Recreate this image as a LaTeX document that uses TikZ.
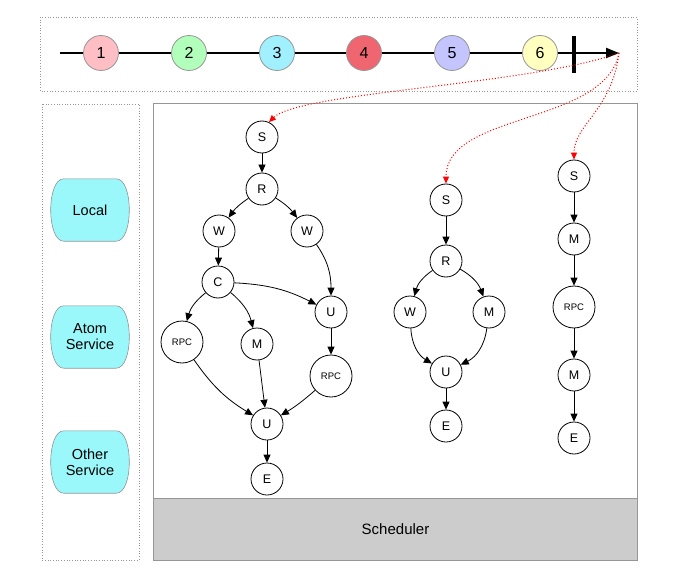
\documentclass[tikz,border=0pt]{standalone}
\usepackage{fontspec}
\setmainfont{Liberation Sans}
\usetikzlibrary{arrows.meta}
\definecolor{cA}{RGB}{255,189,196}
\definecolor{cB}{RGB}{178,255,188}
\definecolor{cC}{RGB}{160,240,255}
\definecolor{cD}{RGB}{240,102,112}
\definecolor{cE}{RGB}{196,196,255}
\definecolor{cF}{RGB}{255,255,192}
\definecolor{svccol}{RGB}{155,248,250}
\definecolor{schedcol}{RGB}{204,204,204}
\definecolor{frame}{RGB}{150,150,150}
\pgfdeclarelayer{bg}
\pgfsetlayers{bg,main}
\newcommand\svcoutline[1]{%
  ([xshift=13pt]#1.north west) -- ([xshift=-13pt]#1.north east)
  .. controls ([xshift=4.5pt]#1.north east) and ([xshift=4.5pt]#1.south east) .. ([xshift=-13pt]#1.south east)
  -- ([xshift=13pt]#1.south west)
  .. controls ([xshift=-4.5pt]#1.south west) and ([xshift=-4.5pt]#1.north west) .. cycle}
\newcommand\svcback[1]{%
  \begin{pgfonlayer}{bg}
  \fill[gray!60,opacity=0.7,shift={(1.5,-2.5)}] \svcoutline{#1};
  \draw[draw=frame,line width=0.6pt,fill=svccol] \svcoutline{#1};
  \end{pgfonlayer}}
\begin{document}
\begin{tikzpicture}[x=1pt,y=1pt,
  tlnum/.style={circle,draw=frame,line width=0.8pt,minimum size=35pt,inner sep=0pt,font=\fontsize{16}{18}\selectfont},
  gn/.style={circle,draw=black,line width=0.8pt,fill=white,minimum size=32pt,inner sep=0pt,font=\fontsize{12.5}{14}\selectfont},
  rpc/.style={gn,minimum size=42pt,font=\fontsize{9.5}{11}\selectfont},
  ed/.style={-{Triangle[length=8pt,width=7pt]},line width=0.8pt},
  red/.style={-{Triangle[length=7pt,width=6pt]},draw=red,dotted,line width=1pt},
  dbox/.style={draw=frame,dotted,line width=0.7pt},
  svc/.style={rectangle,minimum width=78pt,minimum height=62pt,inner sep=0pt,align=center,font=\fontsize{14.5}{17}\selectfont},
]
\useasboundingbox (0,0) rectangle (680,-583);
% frames
\draw[dbox] (40,-17) rectangle (637,-91);
\draw[dbox] (42,-104) rectangle (139,-560);
\draw[draw=frame,line width=1pt] (153,-104) rectangle (637,-560);
\node[draw=frame,line width=1pt,fill=schedcol,minimum width=484pt,minimum height=62pt,inner sep=0pt,anchor=north west,font=\fontsize{15}{17}\selectfont] (sched) at (153,-498) {Scheduler};
% timeline
\coordinate (tlstart) at (60,-53);
\coordinate (tltip) at (619,-53);
\coordinate (bartop) at (574,-36);
\coordinate (barbot) at (574,-73);
\draw[line width=2.2pt,-{Triangle[length=13pt,width=10pt]}] (tlstart) -- (tltip);
\draw[line width=3.5pt] (bartop) -- (barbot);
\node[tlnum,fill=cA] (t1) at (101,-53) {1};
\node[tlnum,fill=cB] (t2) at (189,-53) {2};
\node[tlnum,fill=cC] (t3) at (277,-53) {3};
\node[tlnum,fill=cD] (t4) at (364,-53) {4};
\node[tlnum,fill=cE] (t5) at (452,-53) {5};
\node[tlnum,fill=cF] (t6) at (540,-53) {6};
% service boxes
\node[svc] (local) at (90,-210) {Local};
\node[svc] (atom) at (90,-337) {Atom\\[-1pt]Service};
\node[svc] (other) at (90,-462) {Other\\[-1pt]Service};
\svcback{local}
\svcback{atom}
\svcback{other}
% graph 1
\node[gn] (aS) at (262,-137) {S};
\node[gn] (aR) at (262,-189) {R};
\node[gn] (aW1) at (219,-231) {W};
\node[gn] (aW2) at (307,-231) {W};
\node[gn] (aC) at (218,-282) {C};
\node[gn] (aU1) at (331,-312) {U};
\node[rpc] (aP1) at (182,-342) {RPC};
\node[gn] (aM) at (257,-344) {M};
\node[rpc] (aP2) at (331,-376) {RPC};
\node[gn] (aU2) at (267,-424) {U};
\node[gn] (aE) at (267,-479) {E};
\draw[ed] (aS) -- (aR);
\draw[ed] (aR) to[bend right=10] (aW1);
\draw[ed] (aR) to[bend left=10] (aW2);
\draw[ed] (aW1) -- (aC);
\draw[ed] (aW2) to[out=-55,in=90] (aU1);
\draw[ed] (aC) to[bend left=12] (aU1);
\draw[ed] (aC) to[bend right=18] (aP1);
\draw[ed] (aC) to[bend left=18] (aM);
\draw[ed] (aU1) -- (aP2);
\draw[ed] (aP1) to[bend right=12] (aU2);
\draw[ed] (aM) -- (aU2);
\draw[ed] (aP2) to[bend left=5] (aU2);
\draw[ed] (aU2) -- (aE);
% graph 2
\node[gn] (bS) at (446,-200) {S};
\node[gn] (bR) at (446,-261) {R};
\node[gn] (bW) at (410,-312) {W};
\node[gn] (bM) at (489,-312) {M};
\node[gn] (bU) at (446,-372) {U};
\node[gn] (bE) at (446,-426) {E};
\draw[ed] (bS) -- (bR);
\draw[ed] (bR) to[bend right=20] (bW);
\draw[ed] (bR) to[bend left=20] (bM);
\draw[ed] (bW) to[bend right=28] (bU);
\draw[ed] (bM) to[bend left=28] (bU);
\draw[ed] (bU) -- (bE);
% graph 3
\node[gn] (cS) at (574,-176) {S};
\node[gn] (cM1) at (574,-239) {M};
\node[rpc] (cP) at (574,-307) {RPC};
\node[gn] (cM2) at (574,-375) {M};
\node[gn] (cE) at (574,-438) {E};
\draw[ed] (cS) -- (cM1);
\draw[ed] (cM1) -- (cP);
\draw[ed] (cP) -- (cM2);
\draw[ed] (cM2) -- (cE);
% red dotted links
\draw[red] (tltip) .. controls (530,-85) and (300,-92) .. (aS.65);
\draw[red] (tltip) .. controls (605,-125) and (446,-112) .. (bS.north);
\draw[red] (tltip) .. controls (612,-110) and (574,-125) .. (cS.north);
\end{tikzpicture}
\end{document}
